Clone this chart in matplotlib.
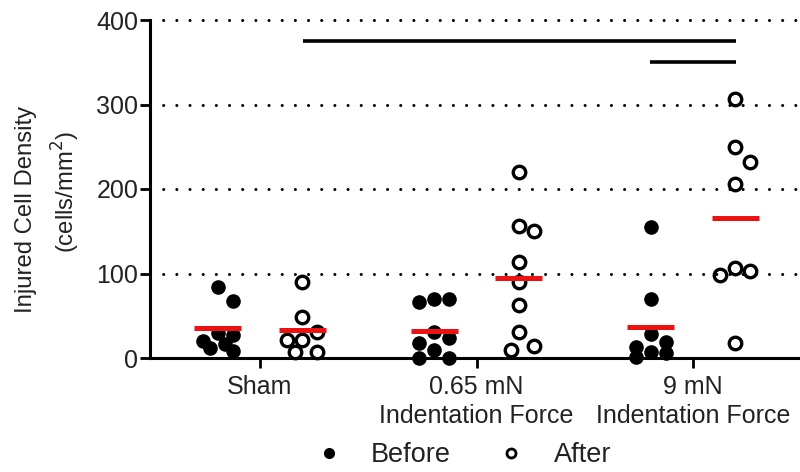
import numpy as np
import matplotlib
matplotlib.use("Agg")
import matplotlib.pyplot as plt
from matplotlib.lines import Line2D

plt.rcParams['font.family'] = ['Liberation Sans', 'DejaVu Sans']

# ---- data ----
groups = ["Sham", "0.65 mN\nIndentation Force", "9 mN\nIndentation Force"]
before_sham = [84, 67, 29, 27, 20, 17, 12, 8]
after_sham = [90, 49, 31, 21, 21, 7, 7]
before_065 = [70, 66, 70, 31, 24, 18, 9, 0, 0]
after_065 = [220, 156, 150, 114, 90, 63, 31, 9, 14]
before_9 = [155, 70, 28, 19, 13, 7, 6, 1]
after_9 = [307, 250, 232, 206, 103, 98, 107, 18]
mean_before = [35, 32, 37]
mean_after = [33, 95, 166]
sig_bars = [(0.2, 2.2, 375), (1.8, 2.2, 350)]  # (from, to, height)
yticks = [0, 100, 200, 300, 400]

before = [before_sham, before_065, before_9]
after = [after_sham, after_065, after_9]

W, H, DPI = 8.0, 4.72, 100
fig = plt.figure(figsize=(W, H), dpi=DPI)
ax = fig.add_axes([150 / 800, 1 - 358 / 472, 650 / 800, 338 / 472])
ax.set_xlim(-0.508, 2.494)
ax.set_ylim(0, 400)

# pixel scales for swarm layout
xpx = 650 / (2.494 + 0.508)
ypx = 338 / 400.0
STEP = 7.5
MINDIST = 17.0
MAXK = 2


def swarm(vals, center):
    order = np.argsort(-np.asarray(vals, dtype=float))
    placed = []
    xs = np.zeros(len(vals))
    for i in order:
        y = vals[i] * ypx
        cands = [0.0]
        for k in range(1, MAXK + 1):
            cands += [k * STEP, -k * STEP]
        best, bestd = 0.0, -1.0
        for c in cands:
            d = min([np.hypot(c - px, y - py) for (px, py) in placed] + [1e9])
            if d >= MINDIST:
                best = c
                break
            if d > bestd + 1e-6:
                best, bestd = c, d
        placed.append((best, y))
        xs[i] = center + best / xpx
    return xs


OFF = 0.195
# grid lines
for t in yticks[1:]:
    ax.axhline(t, color='black', lw=2.2, linestyle=(0, (0.01, 4.3)),
               dash_capstyle='round', zorder=1, clip_on=False)

for g in range(3):
    xb = swarm(before[g], g - OFF)
    xa = swarm(after[g], g + OFF)
    ax.plot(xb, before[g], 'o', color='black', ms=10.5, mew=0, zorder=3, clip_on=False)
    ax.plot(xa, after[g], 'o', mfc='none', mec='black', ms=9.0, mew=2.4, zorder=3, clip_on=False)
    ax.hlines(mean_before[g], g - OFF - 0.108, g - OFF + 0.108, color='#ee1111', lw=3.6, zorder=4)
    ax.hlines(mean_after[g], g + OFF - 0.108, g + OFF + 0.108, color='#ee1111', lw=3.6, zorder=4)

for (a, b, h) in sig_bars:
    ax.plot([a, b], [h, h], color='black', lw=2.6, solid_capstyle='butt', zorder=2)

ax.spines['top'].set_visible(False)
ax.spines['right'].set_visible(False)
ax.spines['left'].set_linewidth(2.2)
ax.spines['bottom'].set_linewidth(2.2)
ax.set_yticks(yticks)
ax.set_xticks(range(3))
ax.set_xticklabels(groups, fontsize=18, linespacing=1.27)
ax.tick_params(axis='y', labelsize=18, length=7, width=2, pad=1.5, labelcolor='#222222')
ax.tick_params(axis='x', length=7, width=2, pad=5.5, labelcolor='#222222')
ax.tick_params(axis='both', color='black')

fig.text(26 / 800, 1 - 209 / 472, "Injured Cell Density", rotation=90,
         ha='center', va='center', fontsize=17.2, color='#222222')
fig.text(66 / 800, 1 - 192 / 472, "(cells/mm$^2$)", rotation=90,
         ha='center', va='center', fontsize=17.2, color='#222222')

handles = [Line2D([], [], ls='none', marker='o', color='black', ms=8, mew=0),
           Line2D([], [], ls='none', marker='o', mfc='none', mec='black', ms=6.5, mew=2.0)]
fig.legend(handles, ["Before", "After"], loc='center', bbox_to_anchor=(463 / 800, 1 - 455 / 472),
           ncol=2, frameon=False, fontsize=19.5, handlelength=1.0, handletextpad=1.05,
           columnspacing=1.75, labelcolor='#222222')

fig.savefig("out.png", dpi=DPI)
